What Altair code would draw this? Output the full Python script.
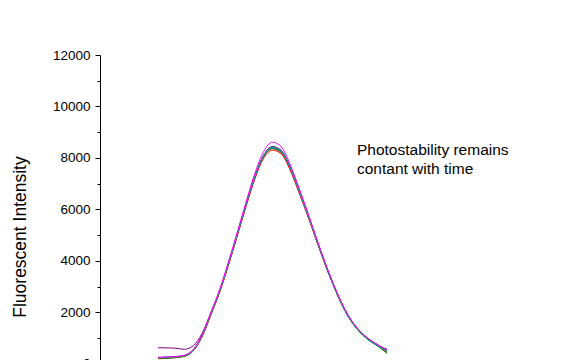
import altair as alt
import pandas as pd

# Emission wavelength grid (nm) – x axis is below the visible window
wavelength = [483, 488, 493, 498, 503, 508, 513, 518, 523, 528, 533, 538, 543, 548,
              553, 558, 563, 568, 573, 578, 583, 588, 593, 598, 603, 608, 613]

series_names = ["t01", "t02", "t03", "t04", "t05", "t06", "t07", "t08", "t09", "t10"]
series_colors = ["#808000", "#000080", "#008080", "#0000FF", "#00C8C8",
                 "#008000", "#FF0000", "#800080", "#20B2AA", "#FF00FF"]

s01 = [190, 205, 230, 285, 495, 1060, 1910, 2800, 3860, 5000, 6160, 7240, 8050, 8350,
       8200, 7580, 6700, 5780, 4800, 3850, 2980, 2210, 1620, 1195, 895, 675, 430]
s02 = [235, 250, 270, 315, 520, 1090, 1940, 2830, 3890, 5030, 6190, 7270, 8090, 8430,
       8270, 7630, 6740, 5810, 4830, 3880, 3010, 2240, 1645, 1225, 925, 705, 560]
s03 = [210, 228, 250, 298, 505, 1075, 1925, 2815, 3875, 5015, 6175, 7255, 8075, 8370,
       8220, 7600, 6710, 5790, 4810, 3860, 2990, 2220, 1630, 1205, 905, 685, 520]
s04 = [230, 250, 268, 312, 515, 1085, 1935, 2825, 3885, 5025, 6185, 7265, 8085, 8400,
       8240, 7610, 6720, 5795, 4815, 3865, 2995, 2225, 1635, 1215, 915, 695, 500]
s05 = [240, 255, 275, 320, 530, 1100, 1950, 2840, 3900, 5050, 6200, 7280, 8100, 8420,
       8260, 7620, 6730, 5800, 4820, 3870, 3000, 2230, 1640, 1210, 910, 690, 480]
s06 = [200, 215, 240, 290, 510, 1070, 1920, 2810, 3870, 5010, 6170, 7250, 8060, 8390,
       8240, 7610, 6720, 5790, 4810, 3860, 2990, 2220, 1630, 1200, 900, 680, 400]
s07 = [220, 235, 255, 300, 500, 1050, 1890, 2780, 3830, 4960, 6110, 7180, 7990, 8300,
       8150, 7530, 6660, 5750, 4790, 3850, 2990, 2230, 1650, 1230, 930, 720, 470]
s08 = [620, 615, 600, 560, 700, 1180, 1980, 2840, 3900, 5040, 6200, 7280, 8100, 8440,
       8290, 7660, 6770, 5830, 4850, 3890, 3020, 2250, 1660, 1240, 940, 720, 530]
s09 = [225, 240, 262, 305, 512, 1082, 1932, 2822, 3882, 5022, 6182, 7262, 8082, 8410,
       8255, 7620, 6730, 5800, 4818, 3868, 2998, 2228, 1638, 1212, 912, 692, 490]
s10 = [250, 262, 280, 330, 560, 1130, 1990, 2890, 3960, 5110, 6290, 7400, 8250, 8610,
       8430, 7760, 6850, 5890, 4890, 3920, 3040, 2270, 1670, 1250, 950, 730, 540]

all_series = [s01, s02, s03, s04, s05, s06, s07, s08, s09, s10]

major_ticks = [0, 2000, 4000, 6000, 8000, 10000, 12000]
minor_ticks = [1000, 3000, 5000, 7000, 9000, 11000]

note_text = "Photostability remains\ncontant with time"
note_x = [596]
note_y = [8110]

rows = []
for name, vals in zip(series_names, all_series):
    for x, v in zip(wavelength, vals):
        rows.append({"wavelength": x, "intensity": v, "series": name})
df = pd.DataFrame(rows)

note_df = pd.DataFrame({"wavelength": note_x, "intensity": note_y, "text": [note_text]})

FONT = "Liberation Sans"
x_scale = alt.Scale(domain=[450, 700], nice=False, zero=False)
y_scale = alt.Scale(domain=[-2500, 12000], nice=False, zero=False)

lines = alt.Chart(df).mark_line(strokeWidth=1, interpolate="monotone", clip=True).encode(
    x=alt.X("wavelength:Q", scale=x_scale,
            axis=alt.Axis(labels=False, ticks=False, title=None, grid=False,
                          domainColor="black")),
    y=alt.Y("intensity:Q", scale=y_scale,
            axis=alt.Axis(orient="left", values=major_ticks, format="d", grid=False,
                          tickSize=5, tickColor="black", tickWidth=1,
                          domainColor="black", domainWidth=1,
                          labelFont=FONT, labelFontSize=13.5, labelColor="black",
                          labelPadding=5,
                          title="Fluorescent Intensity", titleFont=FONT,
                          titleFontSize=17.5, titleFontWeight="normal",
                          titleColor="black", titleAngle=270,
                          titleX=-75, titleY=181.5, titleBaseline="alphabetic",
                          titleAlign="center")),
    color=alt.Color("series:N", scale=alt.Scale(domain=series_names, range=series_colors),
                    legend=None),
    detail="series:N",
)

note = alt.Chart(note_df).mark_text(
    align="left", baseline="alphabetic", lineBreak="\n", lineHeight=19,
    font=FONT, fontSize=15.5, color="black"
).encode(
    x=alt.X("wavelength:Q", scale=x_scale, axis=None),
    y=alt.Y("intensity:Q", scale=y_scale,
            axis=alt.Axis(orient="left", values=minor_ticks, labels=False, domain=False,
                          grid=False, tickSize=3, tickColor="black", tickWidth=1,
                          title=None)),
    text="text:N",
)

chart = alt.layer(lines, note).resolve_axis(y="independent").properties(
    width=440, height=373,
    padding={"left": 100, "top": 55, "right": 31, "bottom": 10},
    autosize=alt.AutoSizeParams(type="none"),
    background="white",
).configure_view(stroke=None)

chart.save("out.html", embed_options={"renderer": "svg", "actions": False})
